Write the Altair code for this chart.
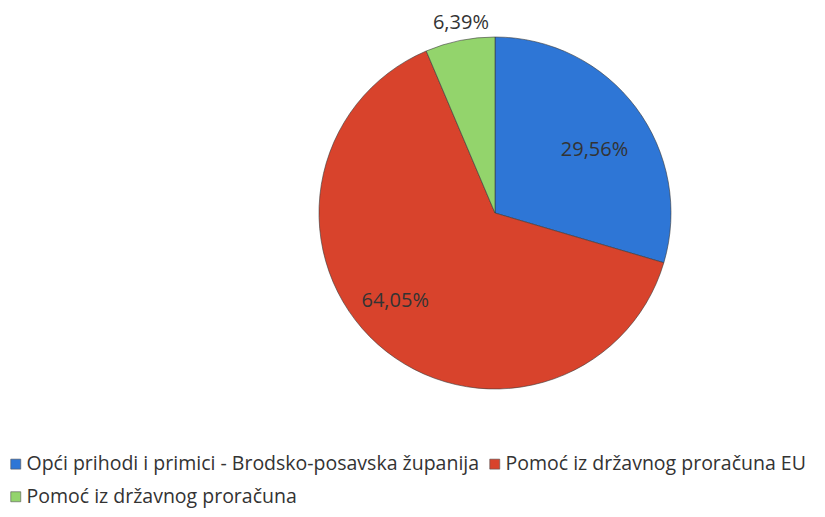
import altair as alt
import pandas as pd

categories = [
    "Opći prihodi i primici - Brodsko-posavska županija",
    "Pomoć iz državnog proračuna EU",
    "Pomoć iz državnog proračuna",
]
values = [29.56, 64.05, 6.39]
labels = ["29,56%", "64,05%", "6,39%"]
colors = ["#2E76D6", "#D8432C", "#93D46C"]

df = pd.DataFrame({"cat": categories, "value": values, "label": labels, "order": [0, 1, 2]})

# legend is laid out column-major: put the 2nd row item second in the domain
legend_order = [categories[0], categories[2], categories[1]]
legend_colors = [colors[0], colors[2], colors[1]]

FONT = "Open Sans"
cx, cy = 487, 205

base = alt.Chart(df).encode(
    theta=alt.Theta("value:Q", stack=True),
    order=alt.Order("order:Q"),
)

pie = base.mark_arc(outerRadius=176, stroke="#3a3a3a", strokeWidth=0.6).encode(
    x=alt.value(cx), y=alt.value(cy),
    color=alt.Color(
        "cat:N",
        sort=legend_order,
        scale=alt.Scale(domain=legend_order, range=legend_colors),
        legend=alt.Legend(
            title=None, orient="none", legendX=-2, legendY=446, columns=2,
            symbolType="square", symbolSize=100, symbolStrokeColor="#555",
            symbolStrokeWidth=0.6, labelFont=FONT, labelFontSize=19.5,
            labelColor="#333", labelLimit=0, labelOffset=1, columnPadding=5,
            rowPadding=12, padding=0,
        ),
    ),
)


def label_layer(idx, radius, dx, dy):
    return base.mark_text(radius=radius, font=FONT, fontSize=20, color="#333",
                          dx=dx, dy=dy).encode(
        x=alt.value(cx), y=alt.value(cy),
        text="label:N",
        opacity=alt.condition(alt.datum.order == idx, alt.value(1), alt.value(0)),
    )


chart = alt.layer(
    pie,
    label_layer(0, 118, 5, 8),
    label_layer(1, 132, -12, -11),
    label_layer(2, 196, 5, 2),
).properties(
    width=809, height=501, padding=0, background="white",
    autosize=alt.AutoSizeParams(type="none"),
).configure_view(stroke=None)

chart.save("out.html", embed_options={"renderer": "svg", "actions": False})
